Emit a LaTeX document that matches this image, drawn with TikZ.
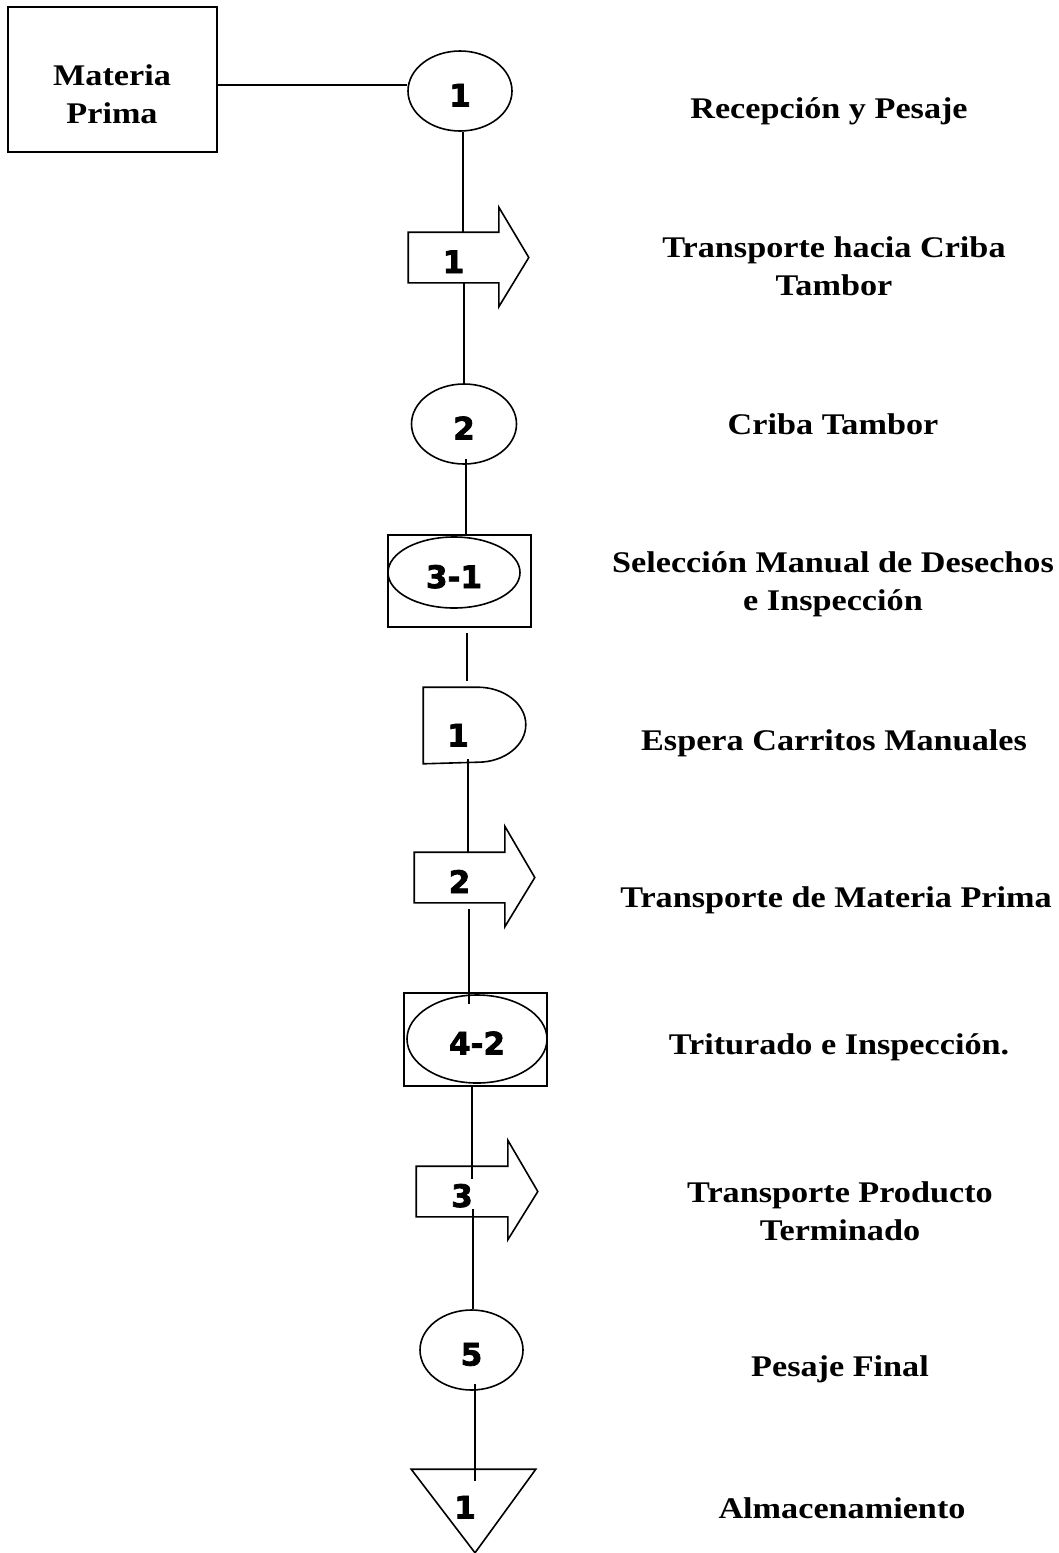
\documentclass[tikz,border=0pt]{standalone}
\usepackage{fontspec}
\setmainfont{Liberation Serif}
\newfontfamily\labfont[FakeStretch=1.14]{Liberation Serif}
\newfontfamily\numfont[FakeBold=2.5]{DejaVu Sans}
\usetikzlibrary{shapes.geometric,calc}
\begin{document}
\begin{tikzpicture}[x=1pt,y=-1pt,line width=1.6pt,
  lab/.style={font=\labfont\bfseries\fontsize{30}{38}\selectfont, align=center, inner sep=0},
  num/.style={font=\numfont\bfseries\fontsize{31}{36}\selectfont, inner sep=0, text height=31pt, text depth=0pt},
  oval/.style={ellipse, draw, inner sep=0},
  box/.style={rectangle, draw, inner sep=0},
  shaft/.style={rectangle, inner sep=0, minimum width=89, minimum height=49},
  outline/.style={draw, line join=miter},
  link/.style={draw}
]
\useasboundingbox (0,0) rectangle (1059,1553);

% symbols
\node[box, minimum width=209, minimum height=145] (mp) at (112.5,79.5) {};
\node[lab] (mpt) at (112,94) {Materia\\Prima};

\node[oval, minimum width=104, minimum height=80, num] (e1) at (460,91) {1};

\node[shaft, num] (a1) at (453.5,257.5) {1};
\draw[outline] (a1.south west) -- (a1.north west) -- (a1.north east) -- ++(0,-25)
  -- ($(a1.east)+(30,0)$) -- ($(a1.south east)+(0,24)$) -- (a1.south east) -- cycle;

\node[oval, minimum width=105, minimum height=80, num] (e2) at (464,424) {2};

\node[box, minimum width=143, minimum height=92] (b31) at (459.5,581) {};
\node[oval, minimum width=132, minimum height=71, num] (o31) at (454,572.5) {3-1};

\node[inner sep=0, minimum width=101, minimum height=75] (d1) at (474.5,725.5) {};
\draw[outline] (d1.north west) -- ($(d1.north east)+(-48,0)$)
  arc[start angle=-90, end angle=90, x radius=48, y radius=37.5] -- (d1.south west) -- cycle;
\node[num] (d1t) at (458,731) {1};

\node[shaft, num] (a2) at (459.5,877.5) {2};
\draw[outline] (a2.south west) -- (a2.north west) -- (a2.north east) -- ++(0,-26)
  -- ($(a2.east)+(30,0)$) -- ($(a2.south east)+(0,24)$) -- (a2.south east) -- cycle;

\node[box, minimum width=143, minimum height=93] (b42) at (475.5,1039.5) {};
\node[oval, minimum width=140, minimum height=88, num] (o42) at (477,1039) {4-2};

\node[shaft, minimum width=90, num] (a3) at (462,1191.5) {3};
\draw[outline] (a3.south west) -- (a3.north west) -- (a3.north east) -- ++(0,-26)
  -- ($(a3.east)+(30,0)$) -- ($(a3.south east)+(0,23)$) -- (a3.south east) -- cycle;

\node[oval, minimum width=103, minimum height=80, num] (e5) at (471.5,1350) {5};

\node[inner sep=0, minimum width=123, minimum height=82] (t1) at (473.5,1511) {};
\draw[outline] (t1.north west) -- (t1.north east) -- ($(t1.south)+(1.5,0)$) -- cycle;
\node[num] (t1t) at (465,1503) {1};

% connectors
\coordinate (j0) at (0,85);
\coordinate (x1) at (463,0);
\coordinate (x2) at (464,0);
\coordinate (x3) at (466,0);
\coordinate (x4) at (467,0);
\coordinate (x5) at (468,0);
\coordinate (x6) at (469,0);
\coordinate (x7) at (472,0);
\coordinate (x8) at (473,0);
\coordinate (x9) at (475,0);
\draw[link] (mp.east |- j0) -- (e1.west |- j0);
\draw[link] (e1.south -| x1) -- (a1.north -| x1);
\draw[link] (a1.south -| x2) -- (e2.north -| x2);
\draw[link, shorten <=-6] (e2.south -| x3) -- (b31.north -| x3);
\draw[link, shorten <=5, shorten >=6] (b31.south -| x4) -- (d1.north -| x4);
\draw[link, shorten <=-5] (d1.south -| x5) -- (a2.north -| x5);
\draw[link, shorten <=6, shorten >=-12] (a2.south -| x6) -- (b42.north -| x6);
\draw[link, shorten >=-13] (b42.south -| x7) -- (a3.north -| x7);
\draw[link, shorten <=-8] (a3.south -| x8) -- (e5.north -| x8);
\draw[link, shorten <=-7, shorten >=-12] (e5.south -| x9) -- (t1.north -| x9);

% labels
\node[lab] (L1) at (829,111) {Recepción y Pesaje};
\node[lab] (L2) at (834,266) {Transporte hacia Criba\\Tambor};
\node[lab] (L3) at (833,424) {Criba Tambor};
\node[lab] (L4) at (833,584) {Selección Manual de Desechos\\e Inspección};
\node[lab] (L5) at (834,743) {Espera Carritos Manuales};
\node[lab] (L6) at (836,900) {Transporte de Materia Prima};
\node[lab] (L7) at (839,1047) {Triturado e Inspección.};
\node[lab] (L8) at (840,1211) {Transporte Producto\\Terminado};
\node[lab] (L9) at (840,1369) {Pesaje Final};
\node[lab] (L10) at (842,1508) {Almacenamiento};
\end{tikzpicture}
\end{document}
